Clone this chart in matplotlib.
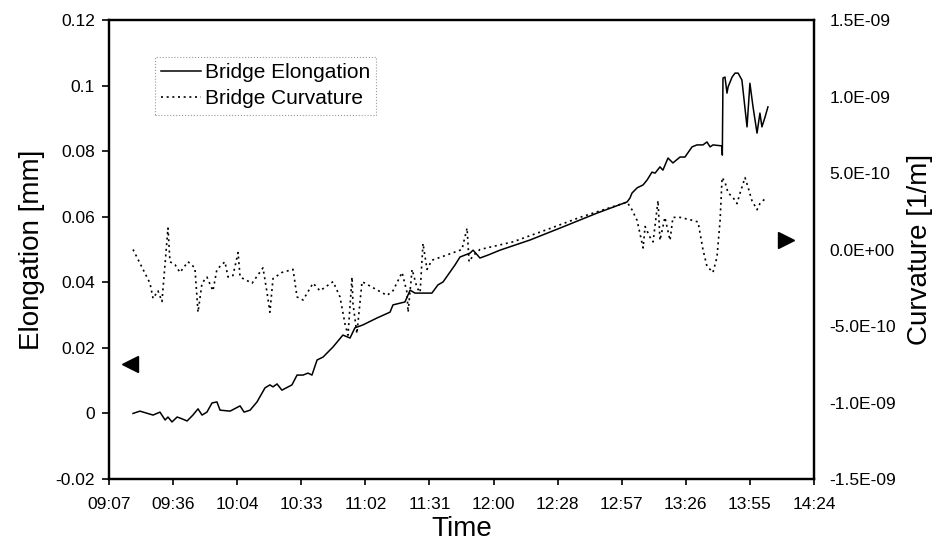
import numpy as np
import matplotlib
matplotlib.use('Agg')
import matplotlib.pyplot as plt
from matplotlib.lines import Line2D

plt.rcParams['font.family'] = ['Liberation Sans', 'DejaVu Sans']
plt.rcParams['axes.unicode_minus'] = False


# ###########################################################################
# Data
# time in minutes after 09:00, elongation in mm
t_elong = [18.0, 21.1, 27.0, 30.1, 32.4, 33.7, 35.5, 37.8, 39.1, 42.3, 44.9, 47.2, 49.0, 51.2,
           53.5, 55.7, 57.1, 61.6, 66.1, 67.9, 70.6, 73.7, 77.3, 79.5, 80.9, 82.7, 84.9, 89.4,
           91.7, 94.4, 96.6, 98.4, 100.7, 103.4, 107.9, 112.3, 115.5, 117.7, 121.3, 127.6, 133.5,
           134.8, 140.2, 142.5, 144.7, 148.3, 152.3, 155.0, 157.3, 162.7, 164.9, 169.4, 170.8,
           173.9, 177.5, 182.9, 196.4, 211.2, 226.5, 240.0, 241.3, 242.2, 244.5, 247.2, 249.0,
           251.2, 252.6, 254.8, 256.1, 258.4, 260.6, 263.8, 266.0, 269.2, 271.4, 274.1, 275.9,
           277.3, 278.6, 282.7, 282.8, 283.1, 284.0, 284.9, 285.4, 287.2, 288.5, 289.9, 291.6,
           293.9, 295.2, 296.6, 298.4, 299.7, 300.6, 302.0, 303.3]
elong = [0.0000, 0.0007, -0.0005, 0.0004, -0.0020, -0.0011, -0.0026, -0.0011, -0.0014, -0.0023,
         -0.0005, 0.0014, -0.0005, 0.0004, 0.0032, 0.0035, 0.0010, 0.0007, 0.0023, 0.0004, 0.0010,
         0.0035, 0.0078, 0.0087, 0.0081, 0.0090, 0.0071, 0.0087, 0.0117, 0.0117, 0.0123, 0.0117,
         0.0163, 0.0172, 0.0203, 0.0239, 0.0230, 0.0261, 0.0270, 0.0291, 0.0309, 0.0331, 0.0340,
         0.0376, 0.0367, 0.0367, 0.0367, 0.0392, 0.0401, 0.0453, 0.0477, 0.0489, 0.0498, 0.0474,
         0.0483, 0.0498, 0.0529, 0.0569, 0.0611, 0.0645, 0.0657, 0.0672, 0.0688, 0.0697, 0.0712,
         0.0736, 0.0733, 0.0752, 0.0742, 0.0779, 0.0764, 0.0782, 0.0782, 0.0813, 0.0819, 0.0819,
         0.0828, 0.0813, 0.0819, 0.0816, 0.0788, 0.1023, 0.1026, 0.0977, 0.0996, 0.1026, 0.1038,
         0.1038, 0.1017, 0.0874, 0.1007, 0.0935, 0.0855, 0.0916, 0.0874, 0.0904, 0.0935]

# curvature in units of 1E-10 1/m
t_curv = [18.0, 22.5, 25.6, 27.0, 29.2, 31.0, 33.7, 34.6, 36.9, 39.1, 42.7, 45.8, 47.2, 49.0,
          51.2, 53.9, 55.7, 59.3, 60.7, 62.9, 65.2, 66.1, 71.5, 76.4, 78.2, 79.5, 80.9, 84.9,
          89.9, 91.7, 94.4, 98.9, 102.0, 107.9, 111.0, 113.3, 114.6, 116.4, 116.8, 118.6, 120.9,
          132.1, 134.8, 138.9, 141.1, 141.6, 143.4, 145.6, 147.0, 148.3, 150.1, 152.3, 158.2,
          165.8, 168.1, 169.0, 170.8, 173.9, 188.7, 204.0, 218.8, 233.7, 240.0, 242.2, 244.5,
          247.2, 248.1, 250.3, 251.7, 253.9, 254.8, 257.0, 259.3, 260.6, 263.8, 269.6, 271.9,
          274.1, 275.9, 277.3, 278.6, 280.4, 281.8, 282.7, 284.0, 285.4, 287.6, 289.4, 290.8,
          293.0, 294.3, 296.1, 298.4, 299.7, 301.1, 302.9]
curv = [0.0, -1.3, -2.2, -3.2, -2.7, -3.4, 1.4, -0.8, -1.0, -1.5, -0.8, -1.2, -4.1, -2.2, -1.8,
        -2.7, -1.3, -0.8, -1.8, -1.7, -0.2, -1.8, -2.2, -1.2, -2.8, -4.1, -1.9, -1.5, -1.3, -3.1,
        -3.3, -2.2, -2.7, -2.1, -3.1, -4.9, -5.6, -1.8, -3.5, -5.5, -2.1, -3.0, -2.7, -1.5, -2.8,
        -4.1, -1.3, -2.5, -2.8, 0.4, -1.3, -0.7, -0.4, 0.0, 1.4, -0.8, -0.4, 0.0, 0.5, 1.3, 2.1,
        2.8, 3.1, 2.6, 1.9, 0.1, 1.5, 0.8, 0.5, 3.2, 0.6, 2.1, 0.6, 2.1, 2.1, 1.9, 1.8, 0.0, -1.1,
        -1.3, -1.5, -0.5, 1.9, 4.7, 4.4, 3.7, 3.4, 3.0, 3.7, 4.7, 4.1, 3.2, 2.6, 3.0, 3.2, 3.4]

x_tick_labels = ['09:07', '09:36', '10:04', '10:33', '11:02', '11:31',
                 '12:00', '12:28', '12:57', '13:26', '13:55', '14:24']
x_tick_days = [0.38, 0.40, 0.42, 0.44, 0.46, 0.48, 0.50, 0.52, 0.54, 0.56, 0.58, 0.60]
y_tick_vals = [-0.02, 0, 0.02, 0.04, 0.06, 0.08, 0.1, 0.12]
y_tick_labels = ['-0.02', '0', '0.02', '0.04', '0.06', '0.08', '0.1', '0.12']
y2_tick_vals = [-1.5e-9, -1.0e-9, -5.0e-10, 0.0, 5.0e-10, 1.0e-9, 1.5e-9]


# ###########################################################################
# Plot
fig = plt.figure(figsize=(9.35, 5.51), dpi=100)
ax = fig.add_axes([0.11658, 0.13067, 0.75401, 0.83303])
ax2 = ax.twinx()

xt = [d * 1440 - 540 for d in x_tick_days]

l1, = ax.plot(t_elong, elong, color='black', lw=1.1)
l2, = ax2.plot(t_curv, np.array(curv) * 1e-10, color='black', lw=1.2,
               linestyle=(0, (1.2, 2.2)))

ax.set_xlim(xt[0], xt[-1])
ax.set_ylim(-0.02, 0.12)
ax2.set_ylim(-1.5e-9, 1.5e-9)

ax.set_xticks(xt)
ax.set_xticklabels(x_tick_labels)
ax.set_yticks(y_tick_vals)
ax.set_yticklabels(y_tick_labels)
ax2.set_yticks(y2_tick_vals)
ax2.set_yticklabels(['{:.1E}'.format(v) for v in y2_tick_vals])

ax.tick_params(axis='x', direction='out', length=4, width=1.2, pad=9, labelsize=12.5)
ax.tick_params(axis='y', direction='out', length=5, width=1.2, pad=5, labelsize=12.5)
ax2.tick_params(axis='y', length=0, pad=11, labelsize=12.5)

for a in [ax, ax2]:
    for s in a.spines.values():
        s.set_linewidth(1.6)
        s.set_color('black')

ax.set_xlabel('Time', fontsize=20, labelpad=3)
ax.set_ylabel('Elongation [mm]', fontsize=20, labelpad=8)
ax2.set_ylabel('Curvature [1/m]', fontsize=20, labelpad=8)

# axis markers
ax2.plot([0.030], [0.25], marker='<', ms=12, color='black', transform=ax.transAxes,
         clip_on=False)
ax2.plot([0.960], [0.52], marker='>', ms=12, color='black', transform=ax.transAxes,
         clip_on=False)

leg = ax2.legend([l1, l2], ['Bridge Elongation', 'Bridge Curvature'],
                 loc='upper left', bbox_to_anchor=(0.065, 0.92), borderaxespad=0,
                 fontsize=15, handlelength=1.9, handletextpad=0.2, labelspacing=0.35,
                 borderpad=0.3, fancybox=False, framealpha=1)
fr = leg.get_frame()
fr.set_edgecolor('0.6')
fr.set_linestyle(':')
fr.set_linewidth(0.8)

fig.savefig('out.png', dpi=100)
